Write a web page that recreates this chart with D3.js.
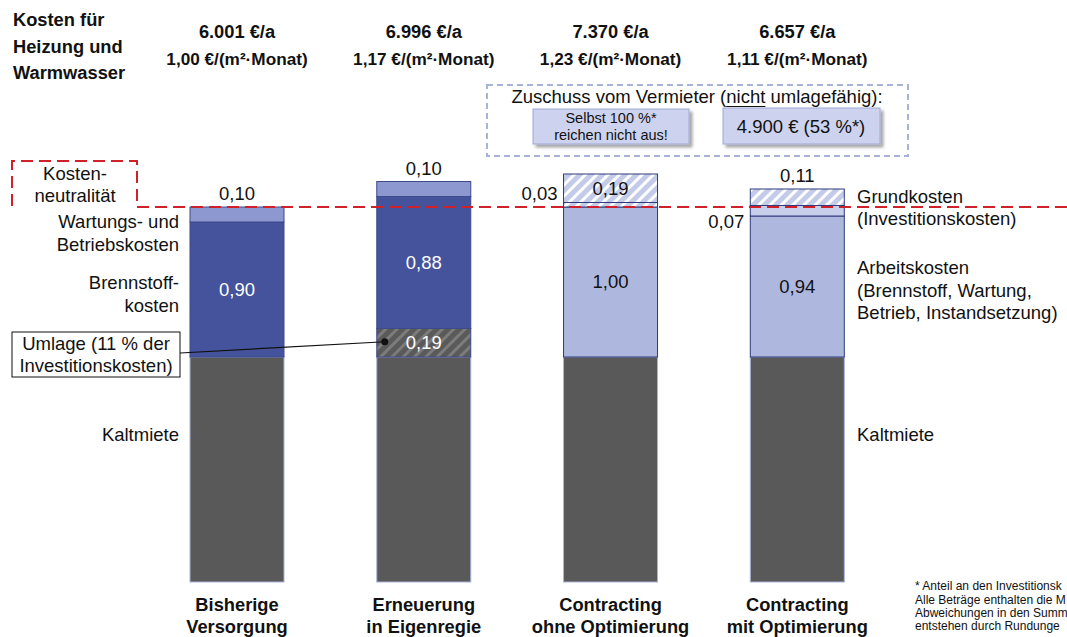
<!DOCTYPE html>
<html>
<head>
<meta charset="utf-8">
<script src="https://cdn.jsdelivr.net/npm/d3@7"></script>
<style>
  body { margin: 0; background: #fff; }
  svg { display: block; font-family: "Liberation Sans", Arial, sans-serif; }
</style>
</head>
<body>
<svg id="chart" width="1067" height="637"></svg>
<script>
// Cost components per variant, in €/(m²·Monat)
const categories = [
  ["Bisherige", "Versorgung"],
  ["Erneuerung", "in Eigenregie"],
  ["Contracting", "ohne Optimierung"],
  ["Contracting", "mit Optimierung"]
];
const annualCost = ["6.001 €/a", "6.996 €/a", "7.370 €/a", "6.657 €/a"];
const monthlyCost = [1.00, 1.17, 1.23, 1.11];

const kaltmiete      = [1.50, 1.50, 1.50, 1.50];
const umlage         = [0, 0.19, 0, 0];
const brennstoff     = [0.90, 0.88, 0, 0];
const wartung        = [0.10, 0.10, 0, 0];
const arbeitskosten  = [0, 0, 1.00, 0.94];
const grundUnten     = [0, 0, 0.03, 0.07];
const grundOben      = [0, 0, 0.19, 0.11];

// Level of today's heating costs on top of the rent
const neutralLevel = 2.50;

const footnotes = [
  "* Anteil an den Investitionsk",
  "Alle Beträge enthalten die M",
  "Abweichungen in den Summ",
  "entstehen durch Rundunge"
];

const svg = d3.select("#chart");
const W = 1067;
const FS = 18.5;      // regular text
const FB = 18.3;      // bold text

const de = d3.formatLocale({ decimal: ",", thousands: ".", grouping: [3], currency: ["", " €"] });
const fmt = de.format(".2f");

const x = d3.scalePoint().domain(d3.range(categories.length)).range([237, 797.3]);
const barW = 94;
const y = d3.scaleLinear().domain([0, 2.5]).range([582, 207]);

// Patterns
const defs = svg.append("defs");
function hatch(id, base, stripe) {
  const p = defs.append("pattern").attr("id", id).attr("patternUnits", "userSpaceOnUse")
    .attr("width", 8).attr("height", 8).attr("patternTransform", "rotate(45)");
  p.append("rect").attr("width", 8).attr("height", 8).attr("fill", base);
  p.append("rect").attr("width", 3).attr("height", 8).attr("fill", stripe);
}
hatch("hatchBlue", "#c3cbe9", "#ffffff");
hatch("hatchGray", "#5a5a5a", "#7c7c7c");
const shadow = defs.append("filter").attr("id", "shadow").attr("x", "-10%").attr("y", "-10%").attr("width", "130%").attr("height", "140%");
shadow.append("feDropShadow").attr("dx", 3).attr("dy", 3).attr("stdDeviation", 1.5).attr("flood-color", "#000").attr("flood-opacity", 0.35);

const series = [
  { key: "kaltmiete", values: kaltmiete, fill: () => "#595959", stroke: "#a9b3da", dark: true },
  { key: "umlage", values: umlage, fill: () => "url(#hatchGray)", stroke: "#3d4a8c", dark: true },
  { key: "brennstoff", values: brennstoff, fill: () => "#44539b", stroke: "#3d4a8c", dark: true },
  { key: "wartung", values: wartung, fill: () => "#8c98cf", stroke: "#3d4a8c", dark: false },
  { key: "arbeitskosten", values: arbeitskosten, fill: () => "#aeb8df", stroke: "#2f3b7a", dark: false },
  { key: "grundUnten", values: grundUnten, fill: i => i === 2 ? "url(#hatchBlue)" : "#c8cfeb", stroke: "#2f3b7a", dark: false },
  { key: "grundOben", values: grundOben, fill: () => "url(#hatchBlue)", stroke: "#2f3b7a", dark: false }
];

const rows = categories.map((c, i) => {
  const r = { i };
  series.forEach(s => r[s.key] = s.values[i]);
  return r;
});
const stacked = d3.stack().keys(series.map(s => s.key))(rows);

// Bars
const gBars = svg.append("g");
stacked.forEach((layer, li) => {
  const s = series[li];
  layer.forEach((d, i) => {
    const v = d[1] - d[0];
    if (v <= 0) return;
    gBars.append("rect")
      .attr("x", x(i) - barW / 2)
      .attr("y", y(d[1]))
      .attr("width", barW)
      .attr("height", y(d[0]) - y(d[1]))
      .attr("fill", s.fill(i))
      .attr("stroke", s.stroke)
      .attr("stroke-width", 1);
  });
});

// Kostenneutralität marker
const red = "#d0202a";
svg.append("path")
  .attr("d", `M12,${y(neutralLevel) - 1} V161 H137 V${y(neutralLevel)} H${W}`)
  .attr("fill", "none").attr("stroke", red).attr("stroke-width", 2)
  .attr("stroke-dasharray", "12,6");
svg.append("text").attr("x", 75).attr("y", 174).attr("dy", "0.35em").attr("text-anchor", "middle")
  .attr("font-size", FS).attr("fill", "#111").text("Kosten-");
svg.append("text").attr("x", 75).attr("y", 196).attr("dy", "0.35em").attr("text-anchor", "middle")
  .attr("font-size", FS).attr("fill", "#111").text("neutralität");

// Segment value labels
const gLab = svg.append("g").attr("font-size", FS);
stacked.forEach((layer, li) => {
  const s = series[li];
  if (s.key === "kaltmiete") return;
  layer.forEach((d, i) => {
    const v = d[1] - d[0];
    if (v <= 0) return;
    const isTop = d[1] >= d3.max(stacked, L => L[i][1]) - 1e-9;
    const mid = (y(d[0]) + y(d[1])) / 2;
    let tx = x(i), ty = mid, anchor = "middle", col = "#111";
    if (v >= 0.15) {
      col = s.dark ? "#fff" : "#111";
    } else if (isTop) {
      ty = y(d[1]) - 13;
    } else {
      tx = x(i) - barW / 2 - 6;
      anchor = "end";
      ty = mid < y(neutralLevel) ? y(neutralLevel) - 13 : y(neutralLevel) + 15;
    }
    gLab.append("text").attr("x", tx).attr("y", ty).attr("dy", "0.35em")
      .attr("text-anchor", anchor).attr("fill", col).text(fmt(v));
  });
});

// Header: annual and monthly costs
svg.append("g").attr("font-weight", "bold").attr("font-size", FB).attr("fill", "#111")
  .selectAll("text").data(["Kosten für", "Heizung und", "Warmwasser"]).join("text")
  .attr("x", 13).attr("y", (d, i) => 20 + i * 26.5).attr("dy", "0.35em").text(d => d);
const gHead = svg.append("g").attr("font-weight", "bold").attr("fill", "#111").attr("text-anchor", "middle");
annualCost.forEach((t, i) => {
  gHead.append("text").attr("x", x(i)).attr("y", 32).attr("dy", "0.35em").attr("font-size", FB).text(t);
  gHead.append("text").attr("x", x(i)).attr("y", 59).attr("dy", "0.35em").attr("font-size", 17.2)
    .text(`${fmt(monthlyCost[i])} €/(m²·Monat)`);
});

// Category labels
const gCat = svg.append("g").attr("font-weight", "bold").attr("font-size", FB).attr("fill", "#111").attr("text-anchor", "middle");
categories.forEach((c, i) => {
  c.forEach((line, k) => {
    gCat.append("text").attr("x", x(i)).attr("y", 605 + k * 22).attr("dy", "0.35em").text(line);
  });
});

// Left annotations
const leftNotes = [
  ["Wartungs- und", 222], ["Betriebskosten", 245],
  ["Brennstoff-", 283], ["kosten", 306],
  ["Kaltmiete", 435]
];
svg.append("g").attr("font-size", FS).attr("fill", "#111").attr("text-anchor", "end")
  .selectAll("text").data(leftNotes).join("text")
  .attr("x", 179).attr("y", d => d[1]).attr("dy", "0.35em").text(d => d[0]);

// Right annotations
const rightNotes = [
  ["Grundkosten", 197], ["(Investitionskosten)", 219],
  ["Arbeitskosten", 268], ["(Brennstoff, Wartung,", 291], ["Betrieb, Instandsetzung)", 313],
  ["Kaltmiete", 435]
];
svg.append("g").attr("font-size", FS).attr("fill", "#111")
  .selectAll("text").data(rightNotes).join("text")
  .attr("x", 857).attr("y", d => d[1]).attr("dy", "0.35em").text(d => d[0]);

// Umlage callout
svg.append("rect").attr("x", 12).attr("y", 332).attr("width", 168).attr("height", 45)
  .attr("fill", "#fff").attr("stroke", "#111").attr("stroke-width", 1);
svg.append("text").attr("x", 96).attr("y", 344).attr("dy", "0.35em").attr("text-anchor", "middle")
  .attr("font-size", FS).attr("fill", "#111").text("Umlage (11 % der");
svg.append("text").attr("x", 96).attr("y", 366).attr("dy", "0.35em").attr("text-anchor", "middle")
  .attr("font-size", FS).attr("fill", "#111").text("Investitionskosten)");
const umlageMid = (y(stacked[1][1][0]) + y(stacked[1][1][1])) / 2;
const dotX = x(1) - barW / 2 + 8;
svg.append("line").attr("x1", 180).attr("y1", 353).attr("x2", dotX).attr("y2", umlageMid - 1)
  .attr("stroke", "#111").attr("stroke-width", 1.2);
svg.append("circle").attr("cx", dotX).attr("cy", umlageMid - 1).attr("r", 3.5).attr("fill", "#111");

// Landlord subsidy box
svg.append("rect").attr("x", 487).attr("y", 85).attr("width", 421).attr("height", 71)
  .attr("fill", "none").attr("stroke", "#a9b3da").attr("stroke-width", 2).attr("stroke-dasharray", "6,4");
const zt = svg.append("text").attr("x", 697).attr("y", 97).attr("dy", "0.35em").attr("text-anchor", "middle")
  .attr("font-size", FS).attr("fill", "#111");
zt.append("tspan").text("Zuschuss vom Vermieter (");
zt.append("tspan").text("nicht");
zt.append("tspan").text(" umlagefähig):");
{
  const full = zt.text();
  const a = full.indexOf("nicht");
  const e0 = zt.node().getExtentOfChar(a);
  const e1 = zt.node().getExtentOfChar(a + 4);
  svg.append("line").attr("x1", e0.x).attr("x2", e1.x + e1.width)
    .attr("y1", 106.5).attr("y2", 106.5).attr("stroke", "#111").attr("stroke-width", 1.2);
}
svg.append("rect").attr("x", 533).attr("y", 109).attr("width", 156).attr("height", 35)
  .attr("fill", "#cdd3ee").attr("stroke", "#9da8d4").attr("stroke-width", 1).attr("filter", "url(#shadow)");
svg.append("text").attr("x", 611).attr("y", 118).attr("dy", "0.35em").attr("text-anchor", "middle")
  .attr("font-size", 14.5).attr("fill", "#111").text("Selbst 100 %*");
svg.append("text").attr("x", 611).attr("y", 135).attr("dy", "0.35em").attr("text-anchor", "middle")
  .attr("font-size", 14.5).attr("fill", "#111").text("reichen nicht aus!");
svg.append("rect").attr("x", 723).attr("y", 108).attr("width", 157).attr("height", 36)
  .attr("fill", "#cdd3ee").attr("stroke", "#9da8d4").attr("stroke-width", 1).attr("filter", "url(#shadow)");
svg.append("text").attr("x", 801).attr("y", 127).attr("dy", "0.35em").attr("text-anchor", "middle")
  .attr("font-size", FS).attr("fill", "#111").text("4.900 € (53 %*)");

// Footnotes
svg.append("g").attr("font-size", 12).attr("fill", "#111")
  .selectAll("text").data(footnotes).join("text")
  .attr("x", 915).attr("y", (d, i) => 586 + i * 13.3).attr("dy", "0.35em").text(d => d);
</script>
</body>
</html>
